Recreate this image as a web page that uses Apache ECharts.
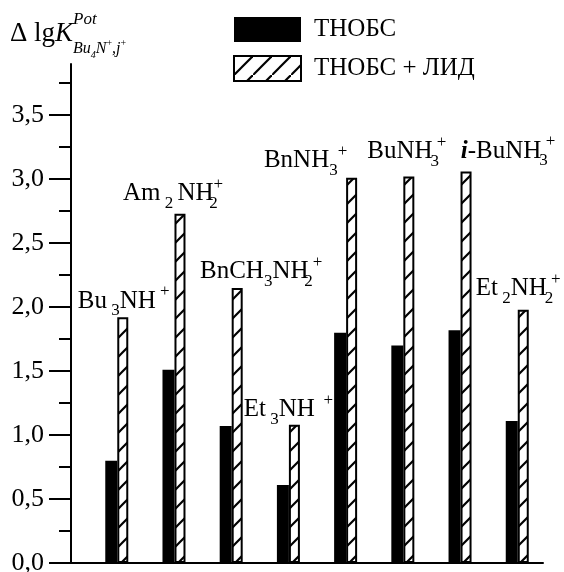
<!DOCTYPE html>
<html>
<head>
<meta charset="utf-8">
<script src="https://cdn.jsdelivr.net/npm/echarts@6/dist/echarts.min.js"></script>
<style>
  html, body { margin: 0; padding: 0; background: #fff; }
  #main { width: 564px; height: 572px; }
</style>
</head>
<body>
<div id="main"></div>
<script>
// data
var categories = ['Bu3NH+', 'Am2NH2+', 'BnCH3NH2+', 'Et3NH+', 'BnNH3+', 'BuNH3+', 'i-BuNH3+', 'Et2NH2+'];
var thobs    = [0.80, 1.51, 1.07, 0.61, 1.80, 1.70, 1.82, 1.11];
var thobsLid = [1.92, 2.73, 2.15, 1.08, 3.01, 3.02, 3.06, 1.98];
var majorTicks = [0, 0.5, 1, 1.5, 2, 2.5, 3, 3.5];
var minorTicks = [0.25, 0.75, 1.25, 1.75, 2.25, 2.75, 3.25, 3.75];
var seriesNames = ['ТНОБС', 'ТНОБС + ЛИД'];

// label text (rich) for each category
var labelRich = [
  '{n|Bu}{sb| 3}{n|NH}{sp| +}',
  '{n|Am}{sb| 2 }{n|NH}{sz|2}{sp|+}',
  '{n|BnCH}{sb|3}{n|NH}{sz|2}{sp| +}',
  '{n|Et}{sb| 3}{n|NH}{sp|  +}',
  '{n|BnNH}{sz|  3}{sp|  +}',
  '{n|BuNH}{sz| 3}{sp| +}',
  '{i|i}{n|-BuNH}{sz| 3}{sp| +}',
  '{n|Et}{sb| 2}{n|NH}{sz| 2}{sp| +}'
];
// label placement relative to the top of the hatched bar
var labelOffsets = [[1, 2], [-7, -2], [24, 2], [-6, 3], [-46, 1], [-2, -7], [42, -2], [-5, -3]];

var FONT = 'Liberation Serif';

// hatch pattern
var hatch = document.createElement('canvas');
hatch.width = 19;
hatch.height = 19;
var ctx = hatch.getContext('2d');
ctx.fillStyle = '#fff';
ctx.fillRect(0, 0, 19, 19);
ctx.strokeStyle = '#000';
ctx.lineWidth = 2.2;
ctx.beginPath();
ctx.moveTo(-4, 23); ctx.lineTo(23, -4);
ctx.stroke();

var myChart = echarts.init(document.getElementById('main'));

var option = {
  animation: false,
  textStyle: { fontFamily: FONT },
  grid: { left: 71, right: 21, top: 64, bottom: 9, outerBoundsMode: 'none' },
  legend: {
    orient: 'vertical',
    left: 228,
    top: 12,
    itemWidth: 67,
    itemHeight: 25,
    itemGap: 13,
    icon: 'rect',
    selectedMode: false,
    data: seriesNames,
    textStyle: { fontFamily: FONT, fontSize: 25, color: '#000', padding: [0, 0, 0, 8] }
  },
  xAxis: {
    type: 'value',
    min: 0.2,
    max: 8.45,
    axisLine: { lineStyle: { color: '#000', width: 2 } },
    axisTick: { show: false },
    axisLabel: { show: false },
    splitLine: { show: false }
  },
  yAxis: [{
    type: 'value',
    min: 0,
    max: 3.9,
    interval: 0.5,
    axisLine: { show: true, lineStyle: { color: '#000', width: 2 } },
    axisTick: { show: true, customValues: majorTicks, length: 22, lineStyle: { color: '#000', width: 2 } },
    axisLabel: {
      customValues: majorTicks,
      margin: 27,
      fontSize: 26,
      fontFamily: FONT,
      color: '#000',
      formatter: function (v) { return v.toFixed(1).replace('.', ','); }
    },
    splitLine: { show: false }
  }, {
    type: 'value',
    min: 0,
    max: 3.9,
    interval: 0.5,
    position: 'left',
    axisLine: { show: false },
    axisTick: { show: true, customValues: minorTicks, length: 12, lineStyle: { color: '#000', width: 2 } },
    axisLabel: { show: false },
    splitLine: { show: false }
  }],
  graphic: [
    {
      type: 'text', left: 10, top: 20,
      style: {
        text: '{a|Δ lg}{k|K}',
        rich: {
          a: { fontSize: 27, fontFamily: FONT, fill: '#000' },
          k: { fontSize: 27, fontFamily: FONT, fontStyle: 'italic', fill: '#000' }
        }
      }
    },
    {
      type: 'text', left: 73, top: 11,
      style: { text: 'Pot', fontSize: 17, fontFamily: FONT, fontStyle: 'italic', fill: '#000' }
    },
    {
      type: 'text', left: 73, top: 38,
      style: {
        text: '{b|Bu}{s|4}{b|N}{p|+}{b|,j}{p|+}',
        rich: {
          b: { fontSize: 16, fontFamily: FONT, fontStyle: 'italic', fill: '#000', lineHeight: 22 },
          s: { fontSize: 10, fontFamily: FONT, fontStyle: 'italic', fill: '#000', verticalAlign: 'bottom', lineHeight: 12 },
          p: { fontSize: 10, fontFamily: FONT, fill: '#000', verticalAlign: 'top', lineHeight: 12 }
        }
      }
    }
  ],
  series: [{
    name: seriesNames[0],
    type: 'bar',
    barWidth: 12,
    barGap: '0%',
    itemStyle: { color: '#000' },
    data: thobs.map(function (v, i) { return [i + 1, v]; })
  }, {
    name: seriesNames[1],
    type: 'bar',
    barWidth: 11,
    barGap: '0%',
    itemStyle: { color: { image: hatch, repeat: 'repeat' }, borderColor: '#000', borderWidth: 2 },
    label: {
      show: true,
      position: 'top',
      distance: 0,
      formatter: function (p) { return labelRich[p.dataIndex]; },
      rich: {
        n: { fontSize: 25, fontFamily: FONT, color: '#000', lineHeight: 36 },
        i: { fontSize: 25, fontFamily: FONT, fontStyle: 'italic', fontWeight: 'bold', color: '#000', lineHeight: 36 },
        sb: { fontSize: 17, fontFamily: FONT, color: '#000', verticalAlign: 'bottom', lineHeight: 16 },
        sz: { fontSize: 17, fontFamily: FONT, color: '#000', verticalAlign: 'bottom', lineHeight: 16, width: 0, align: 'left' },
        sp: { fontSize: 17, fontFamily: FONT, color: '#000', verticalAlign: 'top', lineHeight: 16 }
      }
    },
    data: thobsLid.map(function (v, i) {
      return { value: [i + 1, v], label: { offset: labelOffsets[i] } };
    })
  }]
};

myChart.setOption(option);
</script>
</body>
</html>
